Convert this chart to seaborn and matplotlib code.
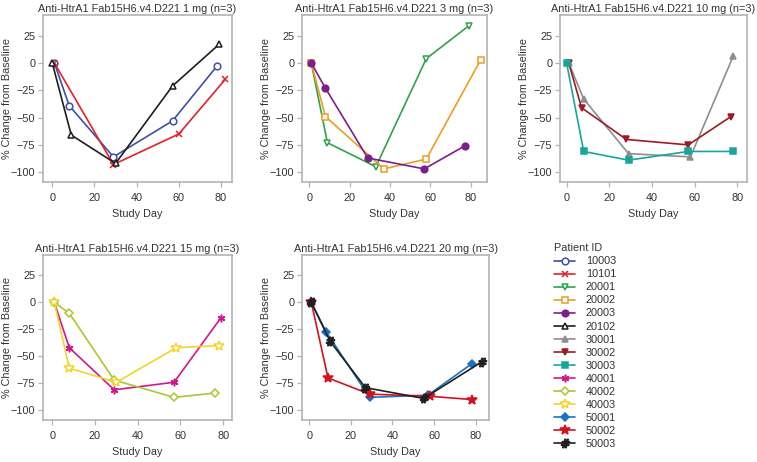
import numpy as np
import pandas as pd
import matplotlib
matplotlib.use("Agg")
import matplotlib.pyplot as plt
import seaborn as sns

# values (study day, % change from baseline)
DAY_10003 = [1, 8, 29, 57, 78]
PCT_10003 = [0, -39, -86, -53, -3]
DAY_10101 = [1, 29, 60, 82]
PCT_10101 = [0, -93, -65, -15]
DAY_20102 = [0, 9, 30, 57, 79]
PCT_20102 = [0, -66, -92, -21, 17]

DAY_20001 = [1, 9, 33, 58, 79]
PCT_20001 = [0, -73, -95, 4, 34]
DAY_20002 = [1, 8, 37, 58, 85]
PCT_20002 = [0, -49, -97, -88, 3]
DAY_20003 = [1, 8, 29, 57, 77]
PCT_20003 = [0, -23, -87, -97, -76]

DAY_30001 = [1, 8, 29, 58, 78]
PCT_30001 = [0, -33, -83, -86, 6]
DAY_30002 = [1, 7, 28, 57, 77]
PCT_30002 = [0, -41, -70, -75, -49]
DAY_30003 = [0, 8, 29, 57, 78]
PCT_30003 = [0, -81, -89, -81, -81]

DAY_40001 = [1, 8, 29, 57, 79]
PCT_40001 = [0, -42, -81, -74, -14]
DAY_40002 = [1, 8, 29, 57, 76]
PCT_40002 = [0, -10, -72, -88, -84]
DAY_40003 = [1, 8, 30, 58, 78]
PCT_40003 = [0, -61, -74, -42, -40]

DAY_50001 = [1, 8, 29, 57, 78]
PCT_50001 = [0, -27, -88, -86, -57]
DAY_50002 = [1, 9, 29, 58, 78]
PCT_50002 = [0, -70, -85, -87, -90]
DAY_50003 = [1, 10, 27, 55, 83]
PCT_50003 = [0, -36, -79, -89, -55]

DOSES = ["1 mg", "3 mg", "10 mg", "15 mg", "20 mg"]
PATIENTS = {
    "1 mg": ["10003", "10101", "20102"],
    "3 mg": ["20001", "20002", "20003"],
    "10 mg": ["30001", "30002", "30003"],
    "15 mg": ["40001", "40002", "40003"],
    "20 mg": ["50001", "50002", "50003"],
}
SERIES = {
    "10003": (DAY_10003, PCT_10003), "10101": (DAY_10101, PCT_10101),
    "20102": (DAY_20102, PCT_20102), "20001": (DAY_20001, PCT_20001),
    "20002": (DAY_20002, PCT_20002), "20003": (DAY_20003, PCT_20003),
    "30001": (DAY_30001, PCT_30001), "30002": (DAY_30002, PCT_30002),
    "30003": (DAY_30003, PCT_30003), "40001": (DAY_40001, PCT_40001),
    "40002": (DAY_40002, PCT_40002), "40003": (DAY_40003, PCT_40003),
    "50001": (DAY_50001, PCT_50001), "50002": (DAY_50002, PCT_50002),
    "50003": (DAY_50003, PCT_50003),
}

rows = []
for dose in DOSES:
    for pid in PATIENTS[dose]:
        d, p = SERIES[pid]
        for x, y in zip(d, p):
            rows.append({"dose": dose, "patient": pid, "day": x, "pct": y})
df = pd.DataFrame(rows)

# style per patient: color, marker, filled
STYLE = {
    "10003": ("#3E4FA6", "o", False),
    "10101": ("#E3212C", "x", True),
    "20001": ("#2FA34B", "v", False),
    "20002": ("#EE9D22", "s", False),
    "20003": ("#7D1F8B", "o", True),
    "20102": ("#1E1E1E", "^", False),
    "30001": ("#8E8E8E", "^", True),
    "30002": ("#9C1C22", "v", True),
    "30003": ("#18A59C", "s", True),
    "40001": ("#D3168A", (6, 2, 0), True),
    "40002": ("#A9C732", "D", False),
    "40003": ("#F0D62A", "*", False),
    "50001": ("#1B72C0", "D", True),
    "50002": ("#D3111F", "*", True),
    "50003": ("#202020", "$\\#$", True),
}
MSIZE = {"*": 7, "$\\#$": 6, "x": 5, (6, 2, 0): 5.5, "D": 4.5}

XLIMS = [(-4.4, 85.2), (-3.6, 88.1), (-3.1, 84.5), (-4.3, 84.1), (-3.5, 86.4)]
POS = [
    (43, 15, 189, 167), (302, 15, 185, 167), (560, 15, 187, 167),
    (43, 255, 189, 165), (302, 255, 187, 165),
]

sns.set_theme(style="ticks")
plt.rcParams["font.family"] = ["Liberation Sans", "DejaVu Sans"]
TXT = "#333333"
EDGE = "#b4b4b4"
FS = 7.8

W, H = 757, 462
fig = plt.figure(figsize=(W / 100, H / 100), dpi=100)

handles = {}
for i, dose in enumerate(DOSES):
    l, t, w, h = POS[i]
    ax = fig.add_axes([l / W, 1 - (t + h) / H, w / W, h / H])
    for pid in PATIENTS[dose]:
        c, m, filled = STYLE[pid]
        sub = df[df["patient"] == pid]
        sns.lineplot(data=sub, x="day", y="pct", ax=ax, color=c, marker=m,
                     markersize=MSIZE.get(m, 4.8), mfc=c if filled else "white",
                     mec=c, mew=1.1, lw=1.2, label=pid, legend=False)
    for ln in ax.get_lines():
        handles[ln.get_label()] = ln
    ax.set_xlim(*XLIMS[i])
    ax.set_ylim(-109, 44)
    ax.set_xticks([0, 20, 40, 60, 80])
    ax.set_yticks([-100, -75, -50, -25, 0, 25])
    ax.set_title(f"Anti-HtrA1 Fab15H6.v4.D221 {dose} (n=3)", fontsize=FS,
                 color=TXT, pad=2.5)
    ax.set_xlabel("Study Day", fontsize=FS, color=TXT, labelpad=4)
    ax.set_ylabel("% Change from Baseline", fontsize=FS, color=TXT, labelpad=-0.5)
    ax.tick_params(labelsize=FS, colors=EDGE, labelcolor=TXT, length=3.5,
                   width=0.9, pad=2)
    ax.tick_params(axis="x", pad=4.5)
    for s in ax.spines.values():
        s.set_visible(True)
        s.set_color(EDGE)
        s.set_linewidth(1.2)

order = sorted(handles)
leg = fig.legend([handles[k] for k in order], order, title="Patient ID",
                 loc="upper left", bbox_to_anchor=(550 / W, 1 - 239 / H),
                 frameon=False, fontsize=FS, title_fontsize=FS,
                 handlelength=1.9, handletextpad=1.0, labelspacing=0.28,
                 borderaxespad=0)
leg._legend_box.align = "left"
for txt in leg.get_texts():
    txt.set_color(TXT)
leg.get_title().set_color(TXT)

fig.savefig("out.png", dpi=100)
